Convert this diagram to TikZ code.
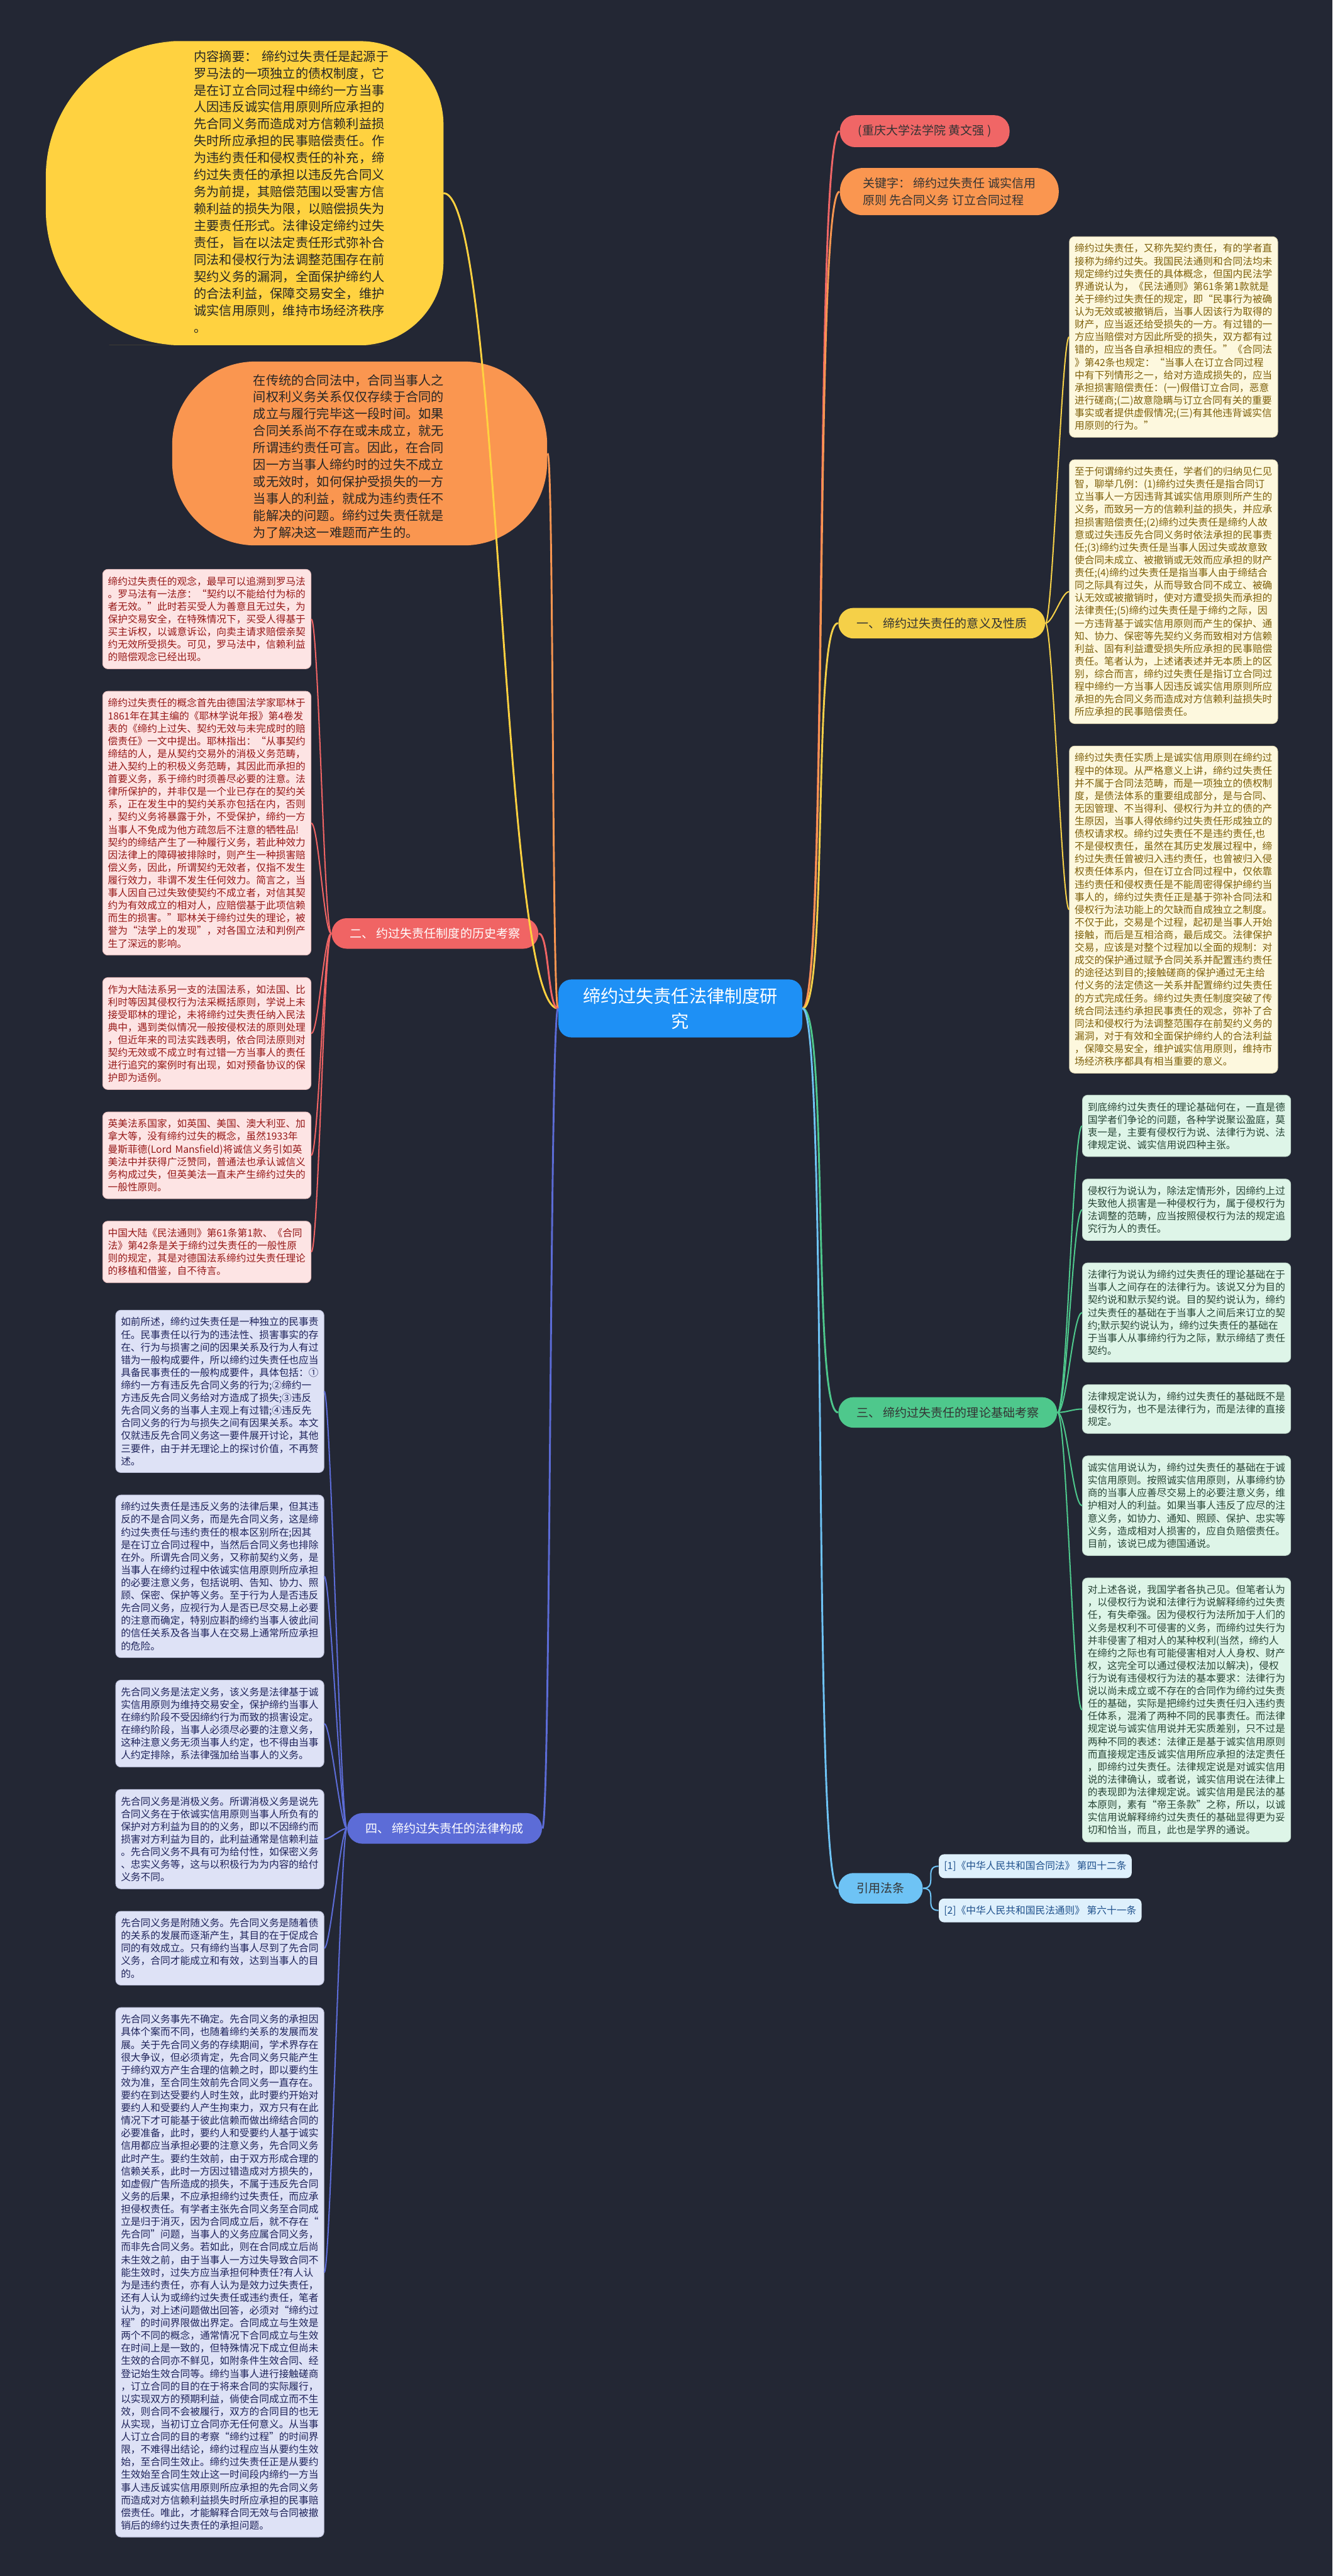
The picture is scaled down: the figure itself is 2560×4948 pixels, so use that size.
\documentclass[tikz,border=0pt]{standalone}
\usepackage{fontspec}
\setmainfont{Noto Sans CJK SC}
\usepackage{tikz}
\usetikzlibrary{positioning}

\definecolor{bgnavy}{RGB}{35,39,52}
\definecolor{rootblue}{RGB}{30,144,245}
\definecolor{sumyellow}{RGB}{255,210,64}
\definecolor{introorange}{RGB}{250,150,80}
\definecolor{authred}{RGB}{240,102,102}
\definecolor{oneyellow}{RGB}{245,208,72}
\definecolor{twored}{RGB}{240,100,100}
\definecolor{threegreen}{RGB}{78,200,140}
\definecolor{fourblue}{RGB}{92,108,215}
\definecolor{citeblue}{RGB}{110,195,245}
\definecolor{yfill}{RGB}{253,248,222}
\definecolor{ytext}{RGB}{125,95,10}
\definecolor{rfill}{RGB}{253,228,228}
\definecolor{rtext}{RGB}{150,25,25}
\definecolor{gfill}{RGB}{222,245,232}
\definecolor{gtext}{RGB}{40,70,55}
\definecolor{pfill}{RGB}{222,226,246}
\definecolor{ptext}{RGB}{30,35,90}
\definecolor{cfill}{RGB}{222,240,252}
\definecolor{ctext}{RGB}{30,80,140}

\begin{document}
\begin{tikzpicture}[
    x=0.01cm,
    y=-0.01cm,
    node distance=0.42cm,
    topic/.style={
		rectangle,
		rounded corners=0.29cm,
		inner xsep=0.35cm,
		inner ysep=5.3pt,
		font=\fontsize{6.54pt}{9.1pt}\selectfont
	},
	note/.style={
		rectangle,
		rounded corners=0.1cm,
		text width=3.8cm,
		align=left,
		inner xsep=0.1cm,
		inner ysep=3.9pt,
		line width=0.3pt,
		font=\fontsize{5.4pt}{6.91pt}\selectfont
	},
	ynote/.style={note, fill=yfill, draw=yfill!80!ytext, text=ytext},
	rnote/.style={note, fill=rfill, draw=rfill!80!rtext, text=rtext},
	gnote/.style={note, fill=gfill, draw=gfill!80!gtext, text=gtext},
	pnote/.style={note, fill=pfill, draw=pfill!80!ptext, text=ptext},
	cnote/.style={
		rectangle,
		rounded corners=0.1cm,
		inner xsep=0.1cm,
		inner ysep=3.75pt,
		fill=cfill,
		text=ctext,
		font=\fontsize{5.4pt}{6.91pt}\selectfont
	},
	blob/.style={
		text width=3.9cm,
		align=left,
		inner sep=0pt,
		font=\fontsize{6.94pt}{9.25pt}\selectfont
	},
	wire/.style={line width=1pt},
	twig/.style={line width=0.7pt}
  ]
  \fill [bgnavy] (0,0) rectangle (2560,4948);
  \useasboundingbox (0,0) rectangle (2560,4948);

  % centre and main topics
  \node [rectangle, rounded corners=0.25cm, fill=rootblue, text=white,
         text width=3.74cm, align=center, inner xsep=0.47cm, inner ysep=0.16cm,
         font=\fontsize{9.67pt}{13.6pt}\selectfont] (root) at (1307,1937)
  {缔约过失责任法律制度研\\究};

  \node [topic, fill=authred, text=black!80, anchor=west] (auth) at (1613,252)
  {(重庆大学法学院 黄文强 )};
  \node [topic, fill=introorange, text=black!80, anchor=west, align=left,
         rounded corners=0.44cm, inner xsep=0.44cm] (keyw) at (1613,368)
  {关键字： 缔约过失责任 诚实信用\\原则 先合同义务 订立合同过程};
  \node [topic, fill=oneyellow, text=black!80, anchor=west] (one) at (1610,1197)
  {一、 缔约过失责任的意义及性质};
  \node [topic, fill=threegreen, text=black!80, anchor=west] (three) at (1610,2713)
  {三、 缔约过失责任的理论基础考察};
  \node [topic, fill=citeblue, text=black!80, anchor=west] (cite) at (1610,3627)
  {引用法条};
  \node [topic, fill=twored, text=white, anchor=east] (two) at (1035,1793)
  {二、 约过失责任制度的历史考察};
  \node [topic, fill=fourblue, text=white, anchor=east] (four) at (1042,3512)
  {四、 缔约过失责任的法律构成};

  % the two round notes on the left
  \fill [sumyellow] (470,79) [rounded corners=2.6cm] -- (88,79) -- (88,663) -- (470,663)
        [rounded corners=1.6cm] -- (852,663) -- (852,79) -- cycle;
  \coordinate (sumedge) at (852,371);
  \node [blob, text=black!85, anchor=north west] (sumtext) at (372,96)
  {内容摘要：~缔约过失责任是起源于\\
   罗马法的一项独立的债权制度，它\\
   是在订立合同过程中缔约一方当事\\
   人因违反诚实信用原则所应承担的\\
   先合同义务而造成对方信赖利益损\\
   失时所应承担的民事赔偿责任。作\\
   为违约责任和侵权责任的补充，缔\\
   约过失责任的承担以违反先合同义\\
   务为前提，其赔偿范围以受害方信\\
   赖利益的损失为限，以赔偿损失为\\
   主要责任形式。法律设定缔约过失\\
   责任，旨在以法定责任形式弥补合\\
   同法和侵权行为法调整范围存在前\\
   契约义务的漏洞，全面保护缔约人\\
   的合法利益，保障交易安全，维护\\
   诚实信用原则，维持市场经济秩序\\
   。};

  \node [rectangle, rounded corners=1.6cm, fill=introorange,
         minimum width=7.2cm, minimum height=3.53cm] (orgshape) at (691,871) {};
  \node [blob, text=black!85, anchor=north west] (orgtext) at (486,718)
  {在传统的合同法中，合同当事人之\\
   间权利义务关系仅仅存续于合同的\\
   成立与履行完毕这一段时间。如果\\
   合同关系尚不存在或未成立，就无\\
   所谓违约责任可言。因此，在合同\\
   因一方当事人缔约时的过失不成立\\
   或无效时，如何保护受损失的一方\\
   当事人的利益，就成为违约责任不\\
   能解决的问题。缔约过失责任就是\\
   为了解决这一难题而产生的。};

  % section one
  \node [ynote, anchor=north west] (yb1) at (2054,454)
  {缔约过失责任，又称先契约责任，有的学者直\\
   接称为缔约过失。我国民法通则和合同法均未\\
   规定缔约过失责任的具体概念，但国内民法学\\
   界通说认为，《民法通则》第61条第1款就是\\
   关于缔约过失责任的规定，即“民事行为被确\\
   认为无效或被撤销后，当事人因该行为取得的\\
   财产，应当返还给受损失的一方。有过错的一\\
   方应当赔偿对方因此所受的损失，双方都有过\\
   错的，应当各自承担相应的责任。”《合同法\\
   》第42条也规定：“当事人在订立合同过程\\
   中有下列情形之一，给对方造成损失的，应当\\
   承担损害赔偿责任：(一)假借订立合同，恶意\\
   进行磋商;(二)故意隐瞒与订立合同有关的重要\\
   事实或者提供虚假情况;(三)有其他违背诚实信\\
   用原则的行为。”};
  \node [ynote, below=of yb1] (yb2)
  {至于何谓缔约过失责任，学者们的归纳见仁见\\
   智，聊举几例：(1)缔约过失责任是指合同订\\
   立当事人一方因违背其诚实信用原则所产生的\\
   义务，而致另一方的信赖利益的损失，并应承\\
   担损害赔偿责任;(2)缔约过失责任是缔约人故\\
   意或过失违反先合同义务时依法承担的民事责\\
   任;(3)缔约过失责任是当事人因过失或故意致\\
   使合同未成立、被撤销或无效而应承担的财产\\
   责任;(4)缔约过失责任是指当事人由于缔结合\\
   同之际具有过失，从而导致合同不成立、被确\\
   认无效或被撤销时，使对方遭受损失而承担的\\
   法律责任;(5)缔约过失责任是于缔约之际，因\\
   一方违背基于诚实信用原则而产生的保护、通\\
   知、协力、保密等先契约义务而致相对方信赖\\
   利益、固有利益遭受损失所应承担的民事赔偿\\
   责任。笔者认为，上述诸表述并无本质上的区\\
   别，综合而言，缔约过失责任是指订立合同过\\
   程中缔约一方当事人因违反诚实信用原则所应\\
   承担的先合同义务而造成对方信赖利益损失时\\
   所应承担的民事赔偿责任。};
  \node [ynote, below=of yb2] (yb3)
  {缔约过失责任实质上是诚实信用原则在缔约过\\
   程中的体现。从严格意义上讲，缔约过失责任\\
   并不属于合同法范畴，而是一项独立的债权制\\
   度，是债法体系的重要组成部分，是与合同、\\
   无因管理、不当得利、侵权行为并立的债的产\\
   生原因，当事人得依缔约过失责任形成独立的\\
   债权请求权。缔约过失责任不是违约责任,也\\
   不是侵权责任，虽然在其历史发展过程中，缔\\
   约过失责任曾被归入违约责任，也曾被归入侵\\
   权责任体系内，但在订立合同过程中，仅依靠\\
   违约责任和侵权责任是不能周密得保护缔约当\\
   事人的，缔约过失责任正是基于弥补合同法和\\
   侵权行为法功能上的欠缺而自成独立之制度。\\
   不仅于此，交易是个过程，起初是当事人开始\\
   接触，而后是互相洽商，最后成交。法律保护\\
   交易，应该是对整个过程加以全面的规制：对\\
   成交的保护通过赋予合同关系并配置违约责任\\
   的途径达到目的;接触磋商的保护通过无主给\\
   付义务的法定债这一关系并配置缔约过失责任\\
   的方式完成任务。缔约过失责任制度突破了传\\
   统合同法违约承担民事责任的观念，弥补了合\\
   同法和侵权行为法调整范围存在前契约义务的\\
   漏洞，对于有效和全面保护缔约人的合法利益\\
   ，保障交易安全，维护诚实信用原则，维持市\\
   场经济秩序都具有相当重要的意义。};

  % section two
  \node [rnote, anchor=north east] (rb1) at (598,1093)
  {缔约过失责任的观念，最早可以追溯到罗马法\\
   。罗马法有一法彦：“契约以不能给付为标的\\
   者无效。”此时若买受人为善意且无过失，为\\
   保护交易安全，在特殊情况下，买受人得基于\\
   买主诉权，以诚意诉讼，向卖主请求赔偿亲契\\
   约无效所受损失。可见，罗马法中，信赖利益\\
   的赔偿观念已经出现。};
  \node [rnote, below=of rb1] (rb2)
  {缔约过失责任的概念首先由德国法学家耶林于\\
   1861年在其主编的《耶林学说年报》第4卷发\\
   表的《缔约上过失、契约无效与未完成时的赔\\
   偿责任》一文中提出。耶林指出：“从事契约\\
   缔结的人，是从契约交易外的消极义务范畴，\\
   进入契约上的积极义务范畴，其因此而承担的\\
   首要义务，系于缔约时须善尽必要的注意。法\\
   律所保护的，并非仅是一个业已存在的契约关\\
   系，正在发生中的契约关系亦包括在内，否则\\
   ，契约义务将暴露于外，不受保护，缔约一方\\
   当事人不免成为他方疏忽后不注意的牺牲品!\\
   契约的缔结产生了一种履行义务，若此种效力\\
   因法律上的障碍被排除时，则产生一种损害赔\\
   偿义务，因此，所谓契约无效者，仅指不发生\\
   履行效力，非谓不发生任何效力。简言之，当\\
   事人因自己过失致使契约不成立者，对信其契\\
   约为有效成立的相对人，应赔偿基于此项信赖\\
   而生的损害。”耶林关于缔约过失的理论，被\\
   誉为“法学上的发现”，对各国立法和判例产\\
   生了深远的影响。};
  \node [rnote, below=of rb2] (rb3)
  {作为大陆法系另一支的法国法系，如法国、比\\
   利时等因其侵权行为法采概括原则，学说上未\\
   接受耶林的理论，未将缔约过失责任纳入民法\\
   典中，遇到类似情况一般按侵权法的原则处理\\
   ，但近年来的司法实践表明，依合同法原则对\\
   契约无效或不成立时有过错一方当事人的责任\\
   进行追究的案例时有出现，如对预备协议的保\\
   护即为适例。};
  \node [rnote, below=of rb3] (rb4)
  {英美法系国家，如英国、美国、澳大利亚、加\\
   拿大等，没有缔约过失的概念，虽然1933年\\
   曼斯菲德(Lord~Mansfield)将诚信义务引如英\\
   美法中并获得广泛赞同，普通法也承认诚信义\\
   务构成过失，但英美法一直未产生缔约过失的\\
   一般性原则。};
  \node [rnote, below=of rb4] (rb5)
  {中国大陆《民法通则》第61条第1款、《合同\\
   法》第42条是关于缔约过失责任的一般性原\\
   则的规定，其是对德国法系缔约过失责任理论\\
   的移植和借鉴，自不待言。};

  % section three
  \node [gnote, anchor=north west] (gb1) at (2079,2103)
  {到底缔约过失责任的理论基础何在，一直是德\\
   国学者们争论的问题，各种学说聚讼盈庭，莫\\
   衷一是，主要有侵权行为说、法律行为说、法\\
   律规定说、诚实信用说四种主张。};
  \node [gnote, below=of gb1] (gb2)
  {侵权行为说认为，除法定情形外，因缔约上过\\
   失致他人损害是一种侵权行为，属于侵权行为\\
   法调整的范畴，应当按照侵权行为法的规定追\\
   究行为人的责任。};
  \node [gnote, below=of gb2] (gb3)
  {法律行为说认为缔约过失责任的理论基础在于\\
   当事人之间存在的法律行为。该说又分为目的\\
   契约说和默示契约说。目的契约说认为，缔约\\
   过失责任的基础在于当事人之间后来订立的契\\
   约;默示契约说认为，缔约过失责任的基础在\\
   于当事人从事缔约行为之际，默示缔结了责任\\
   契约。};
  \node [gnote, below=of gb3] (gb4)
  {法律规定说认为，缔约过失责任的基础既不是\\
   侵权行为，也不是法律行为，而是法律的直接\\
   规定。};
  \node [gnote, below=of gb4] (gb5)
  {诚实信用说认为，缔约过失责任的基础在于诚\\
   实信用原则。按照诚实信用原则，从事缔约协\\
   商的当事人应善尽交易上的必要注意义务，维\\
   护相对人的利益。如果当事人违反了应尽的注\\
   意义务，如协力、通知、照顾、保护、忠实等\\
   义务，造成相对人损害的，应自负赔偿责任。\\
   目前，该说已成为德国通说。};
  \node [gnote, below=of gb5] (gb6)
  {对上述各说，我国学者各执己见。但笔者认为\\
   ，以侵权行为说和法律行为说解释缔约过失责\\
   任，有失牵强。因为侵权行为法所加于人们的\\
   义务是权利不可侵害的义务，而缔约过失行为\\
   并非侵害了相对人的某种权利(当然，缔约人\\
   在缔约之际也有可能侵害相对人人身权、财产\\
   权，这完全可以通过侵权法加以解决)，侵权\\
   行为说有违侵权行为法的基本要求：法律行为\\
   说以尚未成立或不存在的合同作为缔约过失责\\
   任的基础，实际是把缔约过失责任归入违约责\\
   任体系，混淆了两种不同的民事责任。而法律\\
   规定说与诚实信用说并无实质差别，只不过是\\
   两种不同的表述：法律正是基于诚实信用原则\\
   而直接规定违反诚实信用所应承担的法定责任\\
   ，即缔约过失责任。法律规定说是对诚实信用\\
   说的法律确认，或者说，诚实信用说在法律上\\
   的表现即为法律规定说。诚实信用是民法的基\\
   本原则，素有“帝王条款”之称，所以，以诚\\
   实信用说解释缔约过失责任的基础显得更为妥\\
   切和恰当，而且，此也是学界的通说。};

  % section four
  \node [pnote, anchor=north east] (pb1) at (623,2516)
  {如前所述，缔约过失责任是一种独立的民事责\\
   任。民事责任以行为的违法性、损害事实的存\\
   在、行为与损害之间的因果关系及行为人有过\\
   错为一般构成要件，所以缔约过失责任也应当\\
   具备民事责任的一般构成要件，具体包括：①\\
   缔约一方有违反先合同义务的行为;②缔约一\\
   方违反先合同义务给对方造成了损失;③违反\\
   先合同义务的当事人主观上有过错;④违反先\\
   合同义务的行为与损失之间有因果关系。本文\\
   仅就违反先合同义务这一要件展开讨论，其他\\
   三要件，由于并无理论上的探讨价值，不再赘\\
   述。};
  \node [pnote, below=of pb1] (pb2)
  {缔约过失责任是违反义务的法律后果，但其违\\
   反的不是合同义务，而是先合同义务，这是缔\\
   约过失责任与违约责任的根本区别所在;因其\\
   是在订立合同过程中，当然后合同义务也排除\\
   在外。所谓先合同义务，又称前契约义务，是\\
   当事人在缔约过程中依诚实信用原则所应承担\\
   的必要注意义务，包括说明、告知、协力、照\\
   顾、保密、保护等义务。至于行为人是否违反\\
   先合同义务，应视行为人是否已尽交易上必要\\
   的注意而确定，特别应斟酌缔约当事人彼此间\\
   的信任关系及各当事人在交易上通常所应承担\\
   的危险。};
  \node [pnote, below=of pb2] (pb3)
  {先合同义务是法定义务，该义务是法律基于诚\\
   实信用原则为维持交易安全，保护缔约当事人\\
   在缔约阶段不受因缔约行为而致的损害设定。\\
   在缔约阶段，当事人必须尽必要的注意义务，\\
   这种注意义务无须当事人约定，也不得由当事\\
   人约定排除，系法律强加给当事人的义务。};
  \node [pnote, below=of pb3] (pb4)
  {先合同义务是消极义务。所谓消极义务是说先\\
   合同义务在于依诚实信用原则当事人所负有的\\
   保护对方利益为目的的义务，即以不因缔约而\\
   损害对方利益为目的，此利益通常是信赖利益\\
   。先合同义务不具有可为给付性，如保密义务\\
   、忠实义务等，这与以积极行为为内容的给付\\
   义务不同。};
  \node [pnote, below=of pb4] (pb5)
  {先合同义务是附随义务。先合同义务是随着债\\
   的关系的发展而逐渐产生，其目的在于促成合\\
   同的有效成立。只有缔约当事人尽到了先合同\\
   义务，合同才能成立和有效，达到当事人的目\\
   的。};
  \node [pnote, below=of pb5] (pb6)
  {先合同义务事先不确定。先合同义务的承担因\\
   具体个案而不同，也随着缔约关系的发展而发\\
   展。关于先合同义务的存续期间，学术界存在\\
   很大争议，但必须肯定，先合同义务只能产生\\
   于缔约双方产生合理的信赖之时，即以要约生\\
   效为准，至合同生效前先合同义务一直存在。\\
   要约在到达受要约人时生效，此时要约开始对\\
   要约人和受要约人产生拘束力，双方只有在此\\
   情况下才可能基于彼此信赖而做出缔结合同的\\
   必要准备，此时，要约人和受要约人基于诚实\\
   信用都应当承担必要的注意义务，先合同义务\\
   此时产生。要约生效前，由于双方形成合理的\\
   信赖关系，此时一方因过错造成对方损失的，\\
   如虚假广告所造成的损失，不属于违反先合同\\
   义务的后果，不应承担缔约过失责任，而应承\\
   担侵权责任。有学者主张先合同义务至合同成\\
   立是归于消灭，因为合同成立后，就不存在“\\
   先合同”问题，当事人的义务应属合同义务，\\
   而非先合同义务。若如此，则在合同成立后尚\\
   未生效之前，由于当事人一方过失导致合同不\\
   能生效时，过失方应当承担何种责任?有人认\\
   为是违约责任，亦有人认为是效力过失责任，\\
   还有人认为或缔约过失责任或违约责任，笔者\\
   认为，对上述问题做出回答，必须对“缔约过\\
   程”的时间界限做出界定。合同成立与生效是\\
   两个不同的概念，通常情况下合同成立与生效\\
   在时间上是一致的，但特殊情况下成立但尚未\\
   生效的合同亦不鲜见，如附条件生效合同、经\\
   登记始生效合同等。缔约当事人进行接触磋商\\
   ，订立合同的目的在于将来合同的实际履行，\\
   以实现双方的预期利益，倘使合同成立而不生\\
   效，则合同不会被履行，双方的合同目的也无\\
   从实现，当初订立合同亦无任何意义。从当事\\
   人订立合同的目的考察“缔约过程”的时间界\\
   限，不难得出结论，缔约过程应当从要约生效\\
   始，至合同生效止。缔约过失责任正是从要约\\
   生效始至合同生效止这一时间段内缔约一方当\\
   事人违反诚实信用原则所应承担的先合同义务\\
   而造成对方信赖利益损失时所应承担的民事赔\\
   偿责任。唯此，才能解释合同无效与合同被撤\\
   销后的缔约过失责任的承担问题。};

  % cited articles
  \node [cnote, anchor=north west] (cb1) at (1803,3561)
  {[1]《中华人民共和国合同法》 第四十二条};
  \node [cnote, anchor=north west] (cb2) at (1803,3646)
  {[2]《中华人民共和国民法通则》 第六十一条};

  % connectors from the centre
  \draw [wire, authred] (root.east) .. controls +(50,0) and +(-50,0) .. (auth.west);
  \draw [wire, introorange] (root.east) .. controls +(50,0) and +(-50,0) .. (keyw.west);
  \draw [wire, oneyellow] (root.east) .. controls +(50,0) and +(-50,0) .. (one.west);
  \draw [wire, threegreen] (root.east) .. controls +(50,0) and +(-50,0) .. (three.west);
  \draw [wire, citeblue] (root.east) .. controls +(50,0) and +(-50,0) .. (cite.west);
  \draw [wire, sumyellow] (root.west) .. controls +(-110,0) and +(110,0) .. (sumedge);
  \draw [wire, introorange] (root.west) .. controls +(-12,0) and +(12,0) .. (orgshape.east);
  \draw [wire, twored] (root.west) .. controls +(-20,0) and +(20,0) .. (two.east);
  \draw [wire, fourblue] (root.west) .. controls +(-16,0) and +(16,0) .. (four.east);

  % connectors to the notes
  \foreach \n in {yb1,yb2,yb3}
    \draw [twig, oneyellow] (one.east) .. controls +(14,0) and +(-14,0) .. (\n.west);
  \foreach \n in {rb1,rb2,rb3,rb4,rb5}
    \draw [twig, twored] (two.west) .. controls +(-14,0) and +(14,0) .. (\n.east);
  \foreach \n in {gb1,gb2,gb3,gb4,gb5,gb6}
    \draw [twig, threegreen] (three.east) .. controls +(18,0) and +(-18,0) .. (\n.west);
  \foreach \n in {pb1,pb2,pb3,pb4,pb5,pb6}
    \draw [twig, fourblue] (four.west) .. controls +(-12,0) and +(12,0) .. (\n.east);
  \foreach \n in {cb1,cb2}
    \draw [twig, citeblue] (cite.east) .. controls +(30,0) and +(-30,0) .. (\n.west);
\end{tikzpicture}
\end{document}
